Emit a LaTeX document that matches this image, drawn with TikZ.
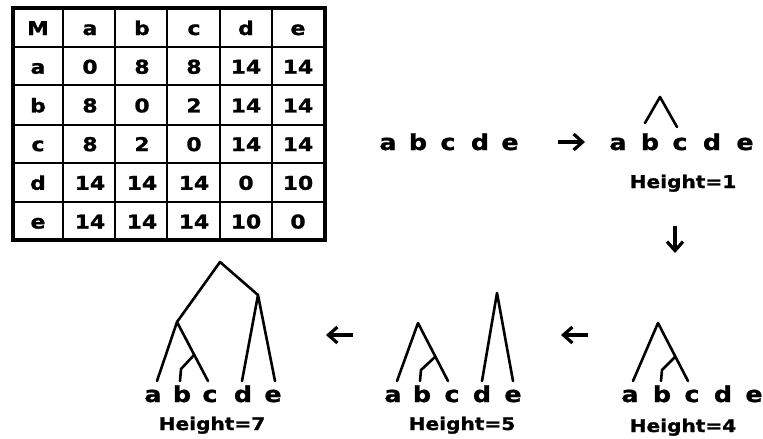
\documentclass[tikz,border=0pt]{standalone}
\usepackage{fontspec}
\setmainfont[FakeStretch=1.15,BoldFeatures={FakeBold=1.2}]{DejaVu Sans}
\usetikzlibrary{arrows.meta}
\begin{document}
\begin{tikzpicture}[x=1pt,y=-1pt,
  cell/.style={font=\fontsize{19}{19}\selectfont\bfseries, anchor=base, inner sep=0pt},
  lbl/.style={font=\fontsize{22}{22}\selectfont\bfseries, anchor=base, inner sep=0pt},
  hgt/.style={font=\fontsize{17.5}{17.5}\selectfont\bfseries, anchor=base, inner sep=0pt},
  edge/.style={line width=2.6pt, line join=round, line cap=round},
  flow/.style={line width=3.2pt, -{Straight Barb[length=9pt,width=16pt,line width=3.2pt]}},
  gridline/.style={line width=2.2pt},
  frame/.style={line width=4pt}]
\useasboundingbox (0,0) rectangle (763,439);

% ---- distance table ----
\foreach \gx in {63,115,167,220,272} \draw[gridline] (\gx,8) -- (\gx,240);
\foreach \gy in {47,85,125,163,202} \draw[gridline] (13,\gy) -- (325,\gy);
\draw[frame] (13,8) rectangle (325,240);
\foreach \row [count=\i] in {{M,a,b,c,d,e},{a,0,8,8,14,14},{b,8,0,2,14,14},{c,8,2,0,14,14},{d,14,14,14,0,10},{e,14,14,14,10,0}}{
  \foreach \v [count=\j] in \row {
    \node[cell] (t\i-\j) at ({38+(\j-1)*52},{35+(\i-1)*38.7}) {\v};
  }
}

% ---- initial leaves ----
\node[lbl] (s-a) at (388,150) {a};
\node[lbl] (s-b) at (418,150) {b};
\node[lbl] (s-c) at (448,150) {c};
\node[lbl] (s-d) at (480,150) {d};
\node[lbl] (s-e) at (510,150) {e};

% ---- Height = 1 ----
\node[lbl] (h1-a) at (618,150) {a};
\node[lbl] (h1-b) at (650,150) {b};
\node[lbl] (h1-c) at (680,150) {c};
\node[lbl] (h1-d) at (712,150) {d};
\node[lbl] (h1-e) at (745,150) {e};
\node[hgt] (h1-l) at (683,188) {Height=1};
\coordinate (h1-bc) at (660,97);
\coordinate (h1-tb) at (645,123);
\coordinate (h1-tc) at (677,127);
\draw[edge] (h1-tb) -- (h1-bc) -- (h1-tc);

% ---- Height = 4 ----
\node[lbl] (h4-a) at (630,402) {a};
\node[lbl] (h4-b) at (662,402) {b};
\node[lbl] (h4-c) at (692,402) {c};
\node[lbl] (h4-d) at (723,402) {d};
\node[lbl] (h4-e) at (754,402) {e};
\node[hgt] (h4-l) at (683,432) {Height=4};
\coordinate (h4-abc) at (658,323);
\coordinate (h4-bc) at (675,357);
\coordinate (h4-ta) at (633,381);
\coordinate (h4-tc) at (688,381);
\coordinate (h4-kb) at (662,370);
\coordinate (h4-tb) at (661,381);
\draw[edge] (h4-ta) -- (h4-abc) -- (h4-tc);
\draw[edge] (h4-bc) -- (h4-kb) -- (h4-tb);

% ---- Height = 5 ----
\node[lbl] (h5-a) at (393,402) {a};
\node[lbl] (h5-b) at (422,402) {b};
\node[lbl] (h5-c) at (452,402) {c};
\node[lbl] (h5-d) at (482,402) {d};
\node[lbl] (h5-e) at (513,402) {e};
\node[hgt] (h5-l) at (462,430) {Height=5};
\coordinate (h5-abc) at (418,323);
\coordinate (h5-bc) at (435,357);
\coordinate (h5-ta) at (397,381);
\coordinate (h5-tc) at (448,381);
\coordinate (h5-kb) at (421,370);
\coordinate (h5-tb) at (420,381);
\coordinate (h5-de) at (497,293);
\coordinate (h5-td) at (482,381);
\coordinate (h5-te) at (513,381);
\draw[edge] (h5-ta) -- (h5-abc) -- (h5-tc);
\draw[edge] (h5-bc) -- (h5-kb) -- (h5-tb);
\draw[edge] (h5-td) -- (h5-de) -- (h5-te);

% ---- Height = 7 ----
\node[lbl] (h7-a) at (153,402) {a};
\node[lbl] (h7-b) at (182,402) {b};
\node[lbl] (h7-c) at (210,402) {c};
\node[lbl] (h7-d) at (243,402) {d};
\node[lbl] (h7-e) at (273,402) {e};
\node[hgt] (h7-l) at (212,430) {Height=7};
\coordinate (h7-root) at (220,262);
\coordinate (h7-abc) at (177,322);
\coordinate (h7-de) at (258,295);
\coordinate (h7-bc) at (194,355);
\coordinate (h7-ta) at (157,381);
\coordinate (h7-tc) at (208,381);
\coordinate (h7-kb) at (181,369);
\coordinate (h7-tb) at (180,381);
\coordinate (h7-td) at (242,381);
\coordinate (h7-te) at (275,381);
\draw[edge] (h7-abc) -- (h7-root) -- (h7-de);
\draw[edge] (h7-ta) -- (h7-abc) -- (h7-tc);
\draw[edge] (h7-bc) -- (h7-kb) -- (h7-tb);
\draw[edge] (h7-td) -- (h7-de) -- (h7-te);

% ---- step arrows ----
\coordinate (ar1s) at (558,142);
\coordinate (ar1e) at (585,142);
\coordinate (ar2s) at (675,226);
\coordinate (ar2e) at (675,253);
\coordinate (ar3s) at (588,335);
\coordinate (ar3e) at (561,335);
\coordinate (ar4s) at (353,335);
\coordinate (ar4e) at (326,335);
\draw[flow] (ar1s) -- (ar1e);
\draw[flow] (ar2s) -- (ar2e);
\draw[flow] (ar3s) -- (ar3e);
\draw[flow] (ar4s) -- (ar4e);
\end{tikzpicture}
\end{document}
